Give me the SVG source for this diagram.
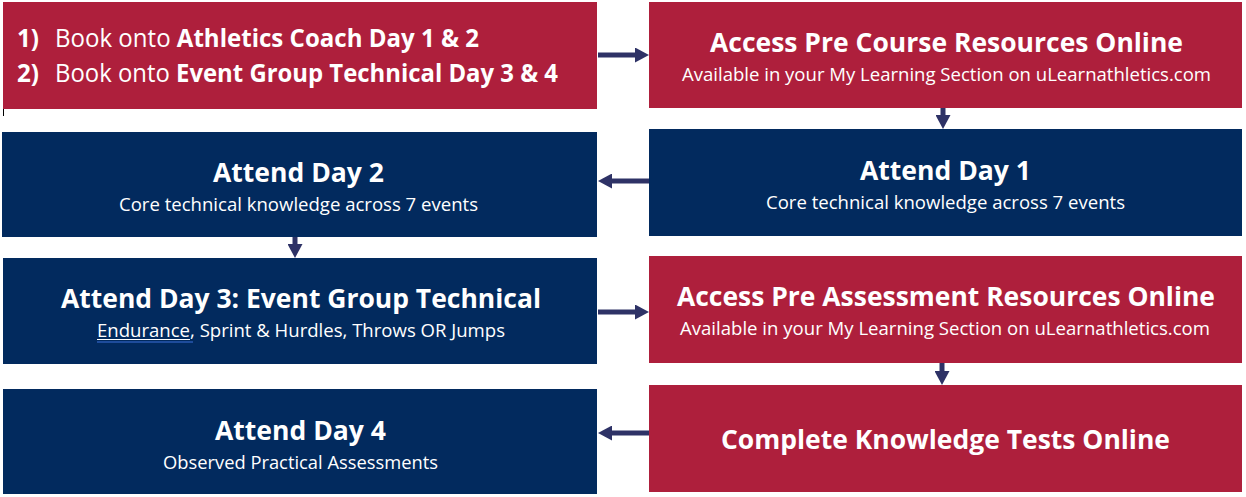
<svg xmlns="http://www.w3.org/2000/svg" width="1246" height="497" viewBox="0 0 1246 497">
<defs>
<style>
.red{fill:#AE1F3C}
.navy{fill:#022A5E}
text{fill:#FFFFFF;font-family:"Open Sans","Noto Sans","Liberation Sans",sans-serif}
.t{font-size:27px;font-weight:700;text-anchor:middle}
.s{font-size:18px;text-anchor:middle}
.l{font-size:25px}
.b{font-weight:700}
.conn line{stroke:#2E3266;stroke-width:5;marker-end:url(#ah)}
</style>
<marker id="ah" markerUnits="userSpaceOnUse" markerWidth="14" markerHeight="15" refX="4" refY="7.5" orient="auto">
<path d="M0,0 L14,7.5 L0,15 Z" fill="#2E3266"/>
</marker>
</defs>
<rect width="1246" height="497" fill="#FFFFFF"/>

<g id="nodeA">
<rect class="red" x="3" y="2" width="594" height="107"/>
<text class="l b" x="17" y="47" textLength="22" lengthAdjust="spacingAndGlyphs">1)</text>
<text class="l" x="55" y="47" textLength="424" lengthAdjust="spacingAndGlyphs">Book onto <tspan class="b">Athletics Coach Day 1 &amp; 2</tspan></text>
<text class="l b" x="17" y="82" textLength="22" lengthAdjust="spacingAndGlyphs">2)</text>
<text class="l" x="55" y="82" textLength="503" lengthAdjust="spacingAndGlyphs">Book onto <tspan class="b">Event Group Technical Day 3 &amp; 4</tspan></text>
</g>

<g id="nodeB">
<rect class="red" x="649" y="2" width="593" height="106"/>
<text class="t" x="946.5" y="52" textLength="473" lengthAdjust="spacingAndGlyphs">Access Pre Course Resources Online</text>
<text class="s" x="946.5" y="81" textLength="529" lengthAdjust="spacingAndGlyphs">Available in your My Learning Section on uLearnathletics.com</text>
</g>

<g id="nodeC">
<rect class="navy" x="649" y="129" width="593" height="107"/>
<text class="t" x="945.5" y="180" textLength="171" lengthAdjust="spacingAndGlyphs">Attend Day 1</text>
<text class="s" x="945.5" y="209" textLength="359" lengthAdjust="spacingAndGlyphs">Core technical knowledge across 7 events</text>
</g>

<g id="nodeD">
<rect class="navy" x="2" y="132" width="595" height="105"/>
<text class="t" x="298.5" y="182" textLength="171" lengthAdjust="spacingAndGlyphs">Attend Day 2</text>
<text class="s" x="298.5" y="211" textLength="359" lengthAdjust="spacingAndGlyphs">Core technical knowledge across 7 events</text>
</g>

<g id="nodeE">
<rect class="navy" x="3" y="258" width="594" height="106"/>
<text class="t" x="301" y="308" textLength="480" lengthAdjust="spacingAndGlyphs">Attend Day 3: Event Group Technical</text>
<text class="s" x="301" y="337" textLength="408" lengthAdjust="spacingAndGlyphs">Endurance, Sprint &amp; Hurdles, Throws OR Jumps</text>
<line x1="97" y1="339.5" x2="190" y2="339.5" stroke="#FFFFFF" stroke-width="1"/>
<line x1="97" y1="342" x2="193" y2="342" stroke="#3A6FD8" stroke-width="1.2"/>
</g>

<g id="nodeF">
<rect class="red" x="649" y="256" width="593" height="107"/>
<text class="t" x="946" y="306" textLength="538" lengthAdjust="spacingAndGlyphs">Access Pre Assessment Resources Online</text>
<text class="s" x="945" y="335" textLength="530" lengthAdjust="spacingAndGlyphs">Available in your My Learning Section on uLearnathletics.com</text>
</g>

<g id="nodeG">
<rect class="red" x="649" y="385" width="593" height="107"/>
<text class="t" x="945.5" y="449" textLength="449" lengthAdjust="spacingAndGlyphs">Complete Knowledge Tests Online</text>
</g>

<g id="nodeH">
<rect class="navy" x="3" y="389" width="594" height="105"/>
<text class="t" x="300.5" y="440" textLength="171" lengthAdjust="spacingAndGlyphs">Attend Day 4</text>
<text class="s" x="300.5" y="469" textLength="275" lengthAdjust="spacingAndGlyphs">Observed Practical Assessments</text>
</g>

<g id="connectors" class="conn">
<line x1="598" y1="55" x2="639" y2="55"/>
<line x1="943" y1="108" x2="943" y2="119"/>
<line x1="649" y1="181" x2="608" y2="181"/>
<line x1="295" y1="237" x2="295" y2="248"/>
<line x1="598" y1="312" x2="639" y2="312"/>
<line x1="942" y1="363" x2="942" y2="375"/>
<line x1="649" y1="433" x2="608" y2="433"/>
</g>

<line x1="3.5" y1="109" x2="3.5" y2="116" stroke="#000000" stroke-width="1"/>
</svg>
